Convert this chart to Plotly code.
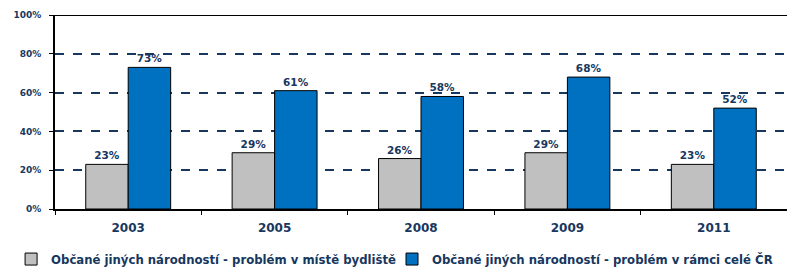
import plotly.graph_objects as go

years = ["2003", "2005", "2008", "2009", "2011"]
local_vals = [23, 29, 26, 29, 23]
national_vals = [73, 61, 58, 68, 52]
series_names = [
    "Občané jiných národností - problém v místě bydliště",
    "Občané jiných národností - problém v rámci celé ČR",
]
y_ticks = [0, 20, 40, 60, 80, 100]
y_tick_labels = ["0%", "20%", "40%", "60%", "80%", "100%"]

NAVY = "#17375e"
FONT = "DejaVu Sans, Arial, sans-serif"

fig = go.Figure()
fig.add_trace(go.Bar(
    x=years, y=local_vals, name=series_names[0], legend="legend",
    marker=dict(color="#c0c0c0", line=dict(color="black", width=1)),
    text=[f"{v}%" for v in local_vals], textposition="outside",
    textfont=dict(family=FONT, size=10.5, color=NAVY, weight="bold"), cliponaxis=False,
))
fig.add_trace(go.Bar(
    x=years, y=national_vals, name=series_names[1], legend="legend2",
    marker=dict(color="#0070c0", line=dict(color="black", width=1)),
    text=[f"{v}%" for v in national_vals], textposition="outside",
    textfont=dict(family=FONT, size=10.5, color=NAVY, weight="bold"), cliponaxis=False,
))

legend_common = dict(
    orientation="h", xanchor="left", y=-0.258, yanchor="middle",
    font=dict(family=FONT, size=11.7, color=NAVY, weight="bold"),
    itemclick=False, bgcolor="rgba(0,0,0,0)",
)
fig.update_layout(
    width=787, height=268,
    margin=dict(l=55, r=0, t=15, b=59, autoexpand=False),
    paper_bgcolor="white", plot_bgcolor="white",
    barmode="group", bargap=0.42, bargroupgap=0,
    font=dict(family=FONT, color=NAVY, size=11, weight="bold"),
    showlegend=True,
    legend=dict(x=-0.060, **legend_common),
    legend2=dict(x=0.4604, **legend_common),
)
fig.update_xaxes(
    showline=True, linecolor="black", linewidth=2, mirror=False,
    ticks="outside", ticklen=4, tickcolor="black", tickson="boundaries",
    tickfont=dict(family=FONT, size=12, color=NAVY, weight="bold"),
    ticklabelstandoff=7, showgrid=False, automargin=False,
)
fig.update_yaxes(
    range=[0, 100], tickvals=y_ticks, ticktext=y_tick_labels,
    showline=True, linecolor="black", linewidth=2,
    ticks="outside", ticklen=4, tickcolor="black",
    tickfont=dict(family=FONT, size=9, color=NAVY, weight="bold"),
    ticklabelstandoff=6,
    showgrid=True, gridcolor=NAVY, gridwidth=1.8, griddash="dash",
    zeroline=False, automargin=False,
)
# solid top border line at 100%
fig.add_shape(type="line", xref="paper", yref="y", x0=0, x1=1, y0=100, y1=100,
              line=dict(color="black", width=2))

fig.write_html(
    "out.html",
    config={"displayModeBar": False},
    post_script="document.body.style.margin='0';document.body.style.overflow='hidden';",
)
